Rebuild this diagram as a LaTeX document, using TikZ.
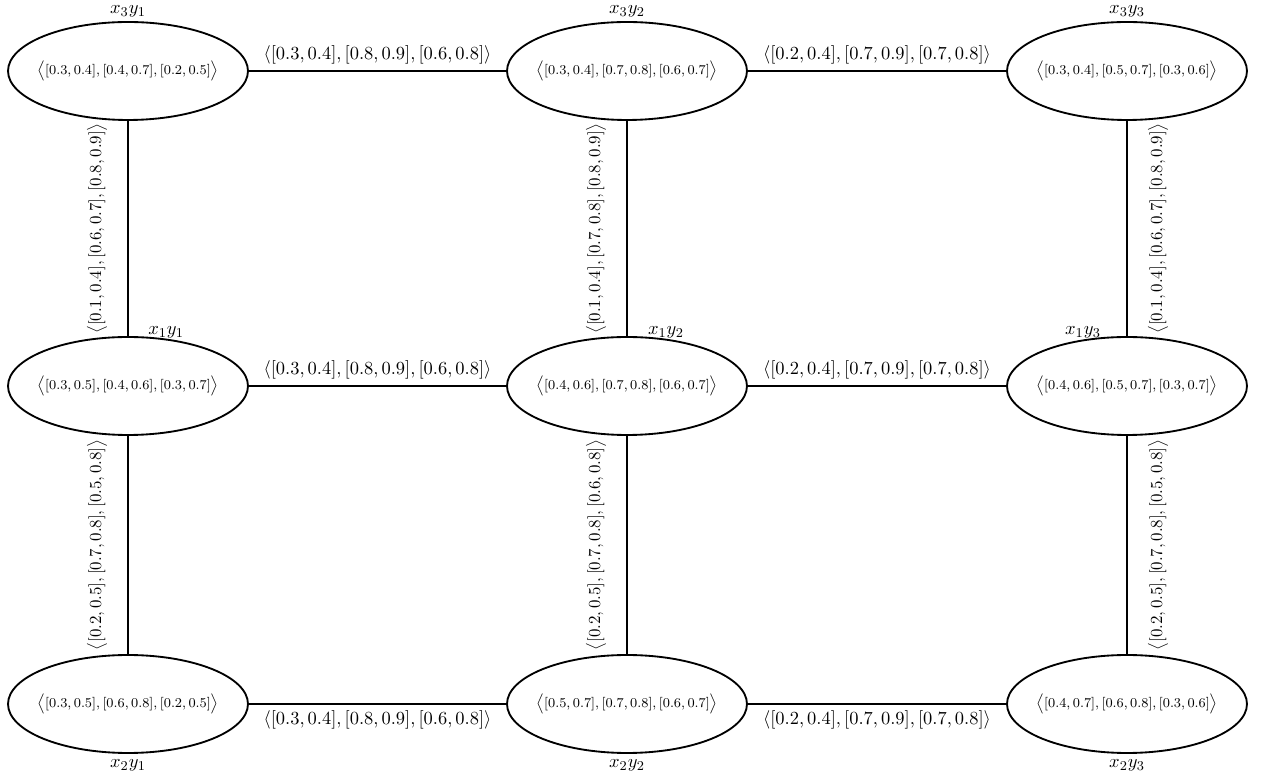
\documentclass[tikz,border=0pt]{standalone}
\usetikzlibrary{shapes.geometric,calc}
\newcommand{\ivtup}[1]{$\big\langle #1\big\rangle$}
\begin{document}
\begin{tikzpicture}[x=0.593pt,y=-0.593pt,
 vert/.style={draw, line width=1.1pt, ellipse, minimum width=142.3pt, minimum height=58.1pt, inner sep=0pt},
 vtext/.style={font=\fontsize{8.3}{10}\selectfont, inner sep=0pt},
 vname/.style={font=\fontsize{11}{13}\selectfont},
 topname/.style={vname, inner sep=2pt},
 edge/.style={line width=1.1pt},
 elab/.style={font=\fontsize{11.3}{13}\selectfont},
 vlab/.style={font=\normalsize, sloped},
]
\useasboundingbox (0,0) rectangle (1268,781);
% top row
\node[vert, label={[topname]above:$x_3y_1$}] (a31) at (128,71) {};
\node[vert, label={[topname]above:$x_3y_2$}] (a32) at (627,71) {};
\node[vert, label={[topname]above:$x_3y_3$}] (a33) at (1127,71) {};
% middle row
\node[vert] (a11) at (128,386) {};
\node[vert] (a12) at (627,386) {};
\node[vert] (a13) at (1127,386) {};
% bottom row
\node[vert, label={[vname]below:$x_2y_1$}] (a21) at (128,704) {};
\node[vert, label={[vname]below:$x_2y_2$}] (a22) at (627,704) {};
\node[vert, label={[vname]below:$x_2y_3$}] (a23) at (1127,704) {};
% node texts
\node[vtext] (t31) at (a31) {\ivtup{[0.3,0.4],[0.4,0.7],[0.2,0.5]}};
\node[vtext] (t32) at (a32) {\ivtup{[0.3,0.4],[0.7,0.8],[0.6,0.7]}};
\node[vtext] (t33) at (a33) {\ivtup{[0.3,0.4],[0.5,0.7],[0.3,0.6]}};
\node[vtext] (t11) at (a11) {\ivtup{[0.3,0.5],[0.4,0.6],[0.3,0.7]}};
\node[vtext] (t12) at (a12) {\ivtup{[0.4,0.6],[0.7,0.8],[0.6,0.7]}};
\node[vtext] (t13) at (a13) {\ivtup{[0.4,0.6],[0.5,0.7],[0.3,0.7]}};
\node[vtext] (t21) at (a21) {\ivtup{[0.3,0.5],[0.6,0.8],[0.2,0.5]}};
\node[vtext] (t22) at (a22) {\ivtup{[0.5,0.7],[0.7,0.8],[0.6,0.7]}};
\node[vtext] (t23) at (a23) {\ivtup{[0.4,0.7],[0.6,0.8],[0.3,0.6]}};
% middle row names
\node[vname, anchor=base west] (l11) at ([xshift=8.5pt,yshift=1pt]a11.north) {$x_1y_1$};
\node[vname, anchor=base west] (l12) at ([xshift=9pt,yshift=1pt]a12.north) {$x_1y_2$};
\node[vname, anchor=base east] (l13) at ([xshift=-12pt,yshift=1pt]a13.north) {$x_1y_3$};
% horizontal edges
\draw[edge] (a31) -- node[elab, above=0pt] {\ivtup{[0.3,0.4],[0.8,0.9],[0.6,0.8]}} (a32);
\draw[edge] (a32) -- node[elab, above=0pt] {\ivtup{[0.2,0.4],[0.7,0.9],[0.7,0.8]}} (a33);
\draw[edge] (a11) -- node[elab, above=0pt] {\ivtup{[0.3,0.4],[0.8,0.9],[0.6,0.8]}} (a12);
\draw[edge] (a12) -- node[elab, above=0pt] {\ivtup{[0.2,0.4],[0.7,0.9],[0.7,0.8]}} (a13);
\draw[edge] (a21) -- node[elab, below=0pt] {\ivtup{[0.3,0.4],[0.8,0.9],[0.6,0.8]}} (a22);
\draw[edge] (a22) -- node[elab, below=0pt] {\ivtup{[0.2,0.4],[0.7,0.9],[0.7,0.8]}} (a23);
% vertical edges
\draw[edge] (a11) -- node[vlab, above=8.5pt] {\ivtup{[0.1,0.4],[0.6,0.7],[0.8,0.9]}} (a31);
\draw[edge] (a12) -- node[vlab, above=8.5pt] {\ivtup{[0.1,0.4],[0.7,0.8],[0.8,0.9]}} (a32);
\draw[edge] (a13) -- node[vlab, below=8.5pt] {\ivtup{[0.1,0.4],[0.6,0.7],[0.8,0.9]}} (a33);
\draw[edge] (a21) -- node[vlab, above=8.5pt] {\ivtup{[0.2,0.5],[0.7,0.8],[0.5,0.8]}} (a11);
\draw[edge] (a22) -- node[vlab, above=8.5pt] {\ivtup{[0.2,0.5],[0.7,0.8],[0.6,0.8]}} (a12);
\draw[edge] (a23) -- node[vlab, below=8.5pt] {\ivtup{[0.2,0.5],[0.7,0.8],[0.5,0.8]}} (a13);
\end{tikzpicture}
\end{document}
